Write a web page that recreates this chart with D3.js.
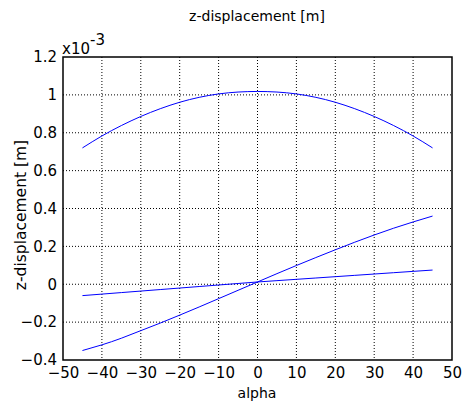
<!DOCTYPE html>
<html>
<head>
<meta charset="utf-8">
<script src="https://cdn.jsdelivr.net/npm/d3@7"></script>
<style>
  body { margin: 0; background: #fff; }
  text { font-family: "DejaVu Sans", sans-serif; fill: #000; }
</style>
</head>
<body>
<div id="chart"></div>
<script>
// alpha values (degrees)
const alpha = [-45, -40, -35, -30, -25, -20, -15, -10, -5, 0, 5, 10, 15, 20, 25, 30, 35, 40, 45];
// z-displacement, x1e-3 m
const zTop = [0.72, 0.783, 0.838, 0.886, 0.927, 0.961, 0.987, 1.005, 1.015, 1.018, 1.015, 1.005, 0.987, 0.961, 0.927, 0.886, 0.838, 0.783, 0.72];
const zSteep = [-0.35, -0.32, -0.285, -0.245, -0.205, -0.163, -0.12, -0.076, -0.032, 0.012, 0.056, 0.099, 0.141, 0.182, 0.222, 0.26, 0.296, 0.329, 0.36];
const zFlat = [-0.06, -0.052, -0.044, -0.036, -0.028, -0.02, -0.012, -0.004, 0.004, 0.012, 0.019, 0.026, 0.033, 0.04, 0.047, 0.054, 0.061, 0.068, 0.075];
const series = [zTop, zSteep, zFlat];

const xTicks = [-50, -40, -30, -20, -10, 0, 10, 20, 30, 40, 50];
const yTicks = [-0.4, -0.2, 0, 0.2, 0.4, 0.6, 0.8, 1, 1.2];

let width = 462, height = 406;
let margin = {top: 57, right: 10, bottom: 46, left: 63};
let w = 452 - margin.left, h = 360 - margin.top;

let svg = d3.select("#chart").append("svg")
    .attr("width", width).attr("height", height);

let g = svg.append("g").attr("transform", `translate(${margin.left},${margin.top})`);

let x = d3.scaleLinear().domain([-50, 50]).range([0, w]);
let y = d3.scaleLinear().domain([-0.4, 1.2]).range([h, 0]);

// grid
g.append("g").selectAll("line").data(xTicks.slice(1, -1)).enter().append("line")
    .attr("x1", d => x(d)).attr("x2", d => x(d))
    .attr("y1", 0).attr("y2", h)
    .attr("stroke", "#000").attr("stroke-dasharray", "1,2");
g.append("g").selectAll("line").data(yTicks.slice(1, -1)).enter().append("line")
    .attr("y1", d => y(d)).attr("y2", d => y(d))
    .attr("x1", 0).attr("x2", w)
    .attr("stroke", "#000").attr("stroke-dasharray", "1,2");

// axes
let xAxis = g.append("g").attr("transform", `translate(0,${h})`)
    .call(d3.axisBottom(x).tickValues(xTicks).tickSize(0).tickPadding(7).tickFormat(d3.format("d")));
let yAxis = g.append("g")
    .call(d3.axisLeft(y).tickValues(yTicks).tickSize(0).tickPadding(6).tickFormat(d => d3.format("")(+d.toFixed(1))));
[xAxis, yAxis].forEach(a => {
    a.select(".domain").remove();
    a.selectAll("text").style("font-size", "15px").style("font-family", "DejaVu Sans, sans-serif");
});

// frame
g.append("rect").attr("width", w).attr("height", h)
    .attr("fill", "none").attr("stroke", "#000").attr("stroke-width", 1.5);

// lines
let line = d3.line().x((d, i) => x(alpha[i])).y(d => y(d)).curve(d3.curveNatural);
g.selectAll(".series").data(series).enter().append("path")
    .attr("d", line).attr("fill", "none").attr("stroke", "#0000ff").attr("stroke-width", 1);

// labels
svg.append("text").attr("x", 257).attr("y", 21).attr("text-anchor", "middle")
    .style("font-size", "14px").text("z-displacement [m]");
svg.append("text").attr("x", 257).attr("y", 398).attr("text-anchor", "middle")
    .style("font-size", "14px").text("alpha");
svg.append("text").attr("transform", "translate(26,215) rotate(-90)")
    .attr("text-anchor", "middle").style("font-size", "15.5px").text("z-displacement [m]");
let ex = svg.append("text").attr("x", 62).attr("y", 54).style("font-size", "15px");
ex.append("tspan").text("x10");
ex.append("tspan").attr("dy", -9).text("-3");
</script>
</body>
</html>
